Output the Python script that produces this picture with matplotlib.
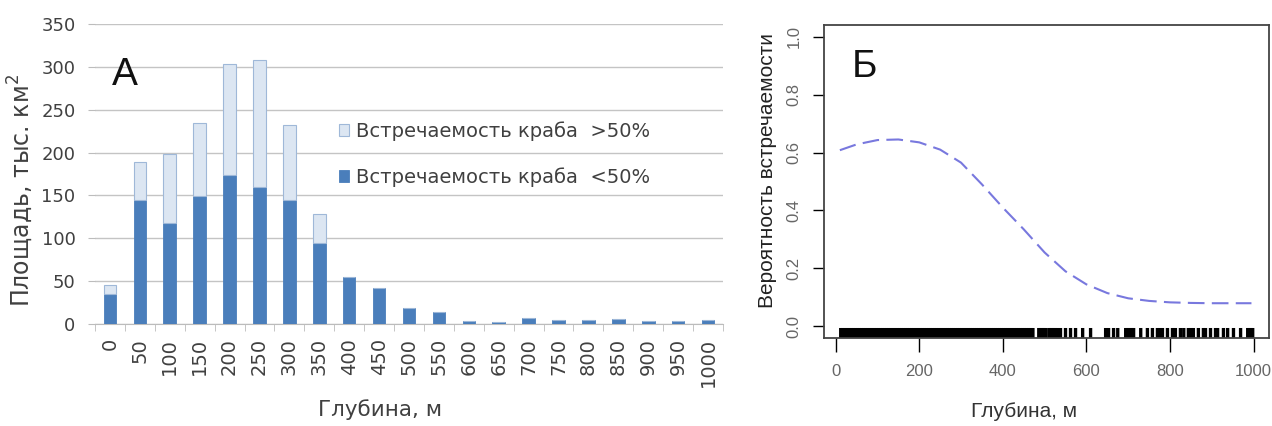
import numpy as np
import matplotlib.pyplot as plt
from matplotlib.ticker import FixedLocator

# --- panel A: area by depth, stacked by crab occurrence ---
depth_cats = ['0', '50', '100', '150', '200', '250', '300', '350', '400', '450', '500',
              '550', '600', '650', '700', '750', '800', '850', '900', '950', '1000']
area_low = [35, 145, 118, 149, 174, 160, 145, 94, 55, 42, 19, 14, 4, 2, 7, 5, 5, 6, 4, 4, 5]
area_high = [11, 44, 80, 85, 129, 148, 87, 34, 0, 0, 0, 0, 0, 0, 0, 0, 0, 0, 0, 0, 0]
label_high = 'Встречаемость краба  >50%'
label_low = 'Встречаемость краба  <50%'

# --- panel B: fitted occurrence probability vs depth ---
curve_depth = [10, 50, 100, 150, 200, 250, 300, 350, 400, 450, 500,
               550, 600, 650, 700, 750, 800, 850, 900, 950, 995]
curve_prob = [0.608, 0.628, 0.643, 0.645, 0.635, 0.61, 0.565, 0.49, 0.41, 0.335, 0.255,
              0.19, 0.145, 0.115, 0.097, 0.088, 0.083, 0.081, 0.080, 0.080, 0.080]

# station depths (rug)
rug_depths = [12, 17, 22, 27, 32, 37, 42, 47, 52, 57, 62, 67, 72, 77, 82, 87, 92, 97,
              102, 107, 112, 117, 122, 127, 132, 137, 142, 147, 152, 157, 162, 167, 172,
              177, 182, 187, 192, 197, 202, 207, 212, 217, 222, 227, 232, 237, 242, 247,
              252, 257, 262, 267, 272, 277, 282, 287, 292, 297, 302, 307, 312, 317, 322,
              327, 332, 337, 342, 347, 352, 357, 362, 367, 372, 377, 382, 387, 392, 397,
              402, 407, 412, 417, 422, 427, 432, 437, 442, 447, 452, 457, 462, 467, 472,
              486, 490, 494, 498, 502, 510, 514, 518, 522, 526, 531, 538, 550, 562, 574,
              591, 610, 646, 653, 665, 675, 694, 698, 702, 706, 710, 713, 730, 746, 758,
              770, 776, 782, 794, 806, 813, 825, 833, 844, 850, 856, 868, 880, 885, 897,
              909, 914, 928, 938, 952, 969, 986, 990, 994, 998]

W, H = 1272, 426
fig = plt.figure(figsize=(W / 100, H / 100), dpi=100)

# ---------------- A ----------------
axA = fig.add_axes([95 / W, (H - 324) / H, 628 / W, 300 / H])
x = np.arange(len(depth_cats))
dark = '#4a7ebb'
light = '#dce6f2'
axA.bar(x, area_low, width=0.42, color=dark, edgecolor=dark, linewidth=0.6,
        label=label_low, zorder=3)
axA.bar(x, area_high, width=0.42, bottom=area_low, color=light, edgecolor='#9fb8d8',
        linewidth=0.8, label=label_high, zorder=3)

axA.set_xlim(-0.5, len(depth_cats) - 0.5)
axA.set_ylim(0, 350)
axA.set_yticks(range(0, 351, 50))
axA.grid(axis='y', color='#c4c4c4', linewidth=1.0, zorder=0)
for s in ['top', 'right', 'left']:
    axA.spines[s].set_visible(False)
axA.spines['bottom'].set_color('#bcbcbc')
axA.set_xticks(x)
axA.set_xticklabels(depth_cats, rotation=90, fontsize=14, color='#404040')
axA.xaxis.set_minor_locator(FixedLocator(np.arange(-0.5, len(depth_cats), 1.0)))
axA.tick_params(axis='x', which='major', length=0, pad=10)
axA.tick_params(axis='x', which='minor', length=5, color='#bcbcbc')
axA.tick_params(axis='y', length=5, color='#bcbcbc', labelsize=13, labelcolor='#404040', pad=9)

axA.set_xlabel('Глубина, м', fontsize=15.5, color='#404040')
axA.xaxis.set_label_coords(0.454, -0.25)
axA.set_ylabel('Площадь, тыс. км$^2$', fontsize=17, color='#404040')
axA.yaxis.set_label_coords(-0.096, 0.445)

handles, labels = axA.get_legend_handles_labels()
axA.legend(handles[::-1], labels[::-1], loc='upper left', bbox_to_anchor=(0.36, 0.735),
           frameon=False, fontsize=14, handlelength=0.55, handleheight=0.55,
           handletextpad=0.35, labelspacing=1.35, labelcolor='#404040')
axA.text(0.048, 0.83, 'А', transform=axA.transAxes, fontsize=28, ha='center', va='center',
         family='Liberation Sans', color='#111111')

# ---------------- Б ----------------
axB = fig.add_axes([824 / W, (H - 338) / H, 445 / W, 313 / H])
axB.plot(curve_depth, curve_prob, color='#7878de', linewidth=1.5, dashes=(8, 3.5))
axB.vlines(rug_depths, 0, 0.032, transform=axB.get_xaxis_transform(),
           color='black', linewidth=2.4, snap=False, capstyle='butt')
axB.set_xlim(-28, 1037)
axB.set_ylim(-0.04, 1.04)
axB.set_xticks([0, 200, 400, 600, 800, 1000])
axB.set_yticks([0.0, 0.2, 0.4, 0.6, 0.8, 1.0])
axB.set_yticklabels(['0.0', '0.2', '0.4', '0.6', '0.8', '1.0'], rotation=90, va='center')
for s in axB.spines.values():
    s.set_color('#444444')
    s.set_linewidth(1.3)
axB.tick_params(axis='x', length=10, width=1.0, labelsize=12, labelcolor='#666666', pad=9,
                labelfontfamily='Liberation Sans')
axB.tick_params(axis='y', length=8, width=1.0, labelsize=12, labelcolor='#666666', pad=8,
                labelfontfamily='Liberation Sans')
axB.set_xlabel('Глубина, м', fontsize=15, family='Liberation Sans', color='#333333')
axB.xaxis.set_label_coords(0.45, -0.205)
axB.set_ylabel('Вероятность встречаемости', fontsize=15, family='Liberation Sans',
               color='#222222')
axB.yaxis.set_label_coords(-0.105, 0.535)
axB.text(0.092, 0.866, 'Б', transform=axB.transAxes, fontsize=28, ha='center', va='center',
         family='Liberation Sans', color='#111111')

fig.savefig('out.png', dpi=100)
